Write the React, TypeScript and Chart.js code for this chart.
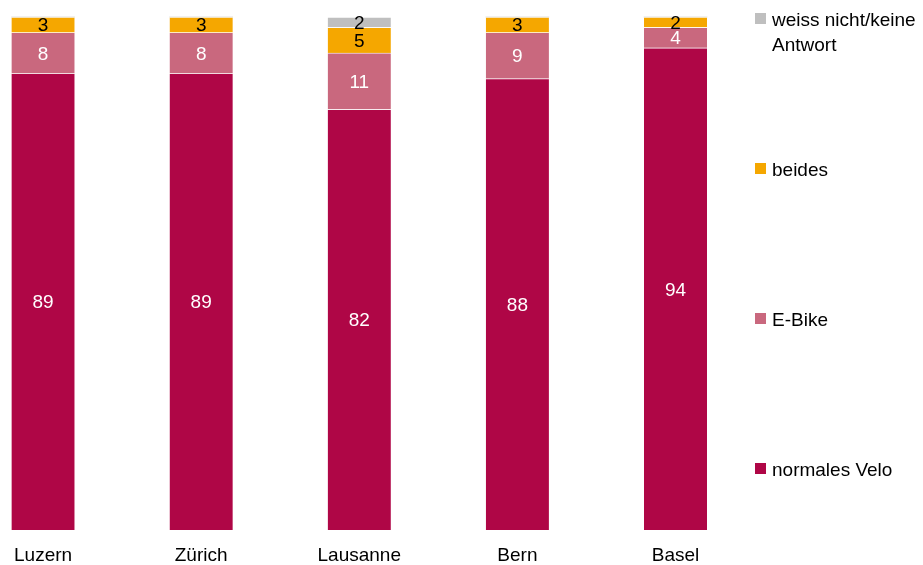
import React, { useEffect, useRef } from "react";
import { Chart, registerables } from "chart.js";

Chart.register(...registerables);

const categories = ["Luzern", "Zürich", "Lausanne", "Bern", "Basel"];
const normalesVelo = [89, 89, 82, 88, 94];
const eBike = [8, 8, 11, 9, 4];
const beides = [3, 3, 5, 3, 2];
const weissNicht = [0, 0, 2, 0, 0];
const seriesLabels = ["normales Velo", "E-Bike", "beides", "weiss nicht/keine Antwort"];
const seriesColors = ["#AF0646", "#C9687E", "#F5A700", "#BFBFBF"];
const labelColors = ["#FFFFFF", "#FFFFFF", "#000000", "#000000"];

const FONT = "'Liberation Sans', Arial, sans-serif";
const FONT_SIZE = 19;

const valueLabelsPlugin = {
  id: "valueLabels",
  afterDatasetsDraw(chart: any) {
    const ctx = chart.ctx;
    ctx.save();
    ctx.font = `${FONT_SIZE}px ${FONT}`;
    ctx.textAlign = "center";
    ctx.textBaseline = "middle";
    chart.data.datasets.forEach((ds: any, di: number) => {
      const meta = chart.getDatasetMeta(di);
      meta.data.forEach((el: any, i: number) => {
        const v = ds.data[i];
        if (!v) return;
        ctx.fillStyle = labelColors[di];
        ctx.fillText(String(v), el.x, (el.y + el.base) / 2 + 1.5);
      });
    });
    ctx.restore();
  },
};

function wrap(ctx: CanvasRenderingContext2D, text: string, maxW: number) {
  const words = text.split(" ");
  const lines: string[] = [];
  let cur = "";
  for (const w of words) {
    const t = cur ? cur + " " + w : w;
    if (ctx.measureText(t).width > maxW && cur) {
      lines.push(cur);
      cur = w;
    } else cur = t;
  }
  if (cur) lines.push(cur);
  return lines;
}

const legendPlugin = {
  id: "sideLegend",
  afterDraw(chart: any) {
    const ctx = chart.ctx;
    ctx.save();
    ctx.font = `${FONT_SIZE}px ${FONT}`;
    ctx.textAlign = "left";
    ctx.textBaseline = "alphabetic";
    const n = chart.data.datasets.length;
    for (let k = 0; k < n; k++) {
      const di = n - 1 - k;
      const ds = chart.data.datasets[di];
      const cy = 18.5 + k * 150;
      ctx.fillStyle = ds.backgroundColor;
      ctx.fillRect(755, cy - 5.5, 11, 11);
      ctx.fillStyle = "#000000";
      const lines = wrap(ctx, ds.label, 148);
      lines.forEach((ln, li) => ctx.fillText(ln, 772, cy + 7.5 + li * 24.5));
    }
    ctx.restore();
  },
};

export default function App() {
  const ref = useRef<HTMLCanvasElement>(null);
  useEffect(() => {
    if (!ref.current) return;
    const seriesData = [normalesVelo, eBike, beides, weissNicht];
    const chart = new Chart(ref.current, {
      type: "bar",
      data: {
        labels: categories,
        datasets: seriesData.map((d, i) => ({
          label: seriesLabels[i],
          data: d,
          backgroundColor: seriesColors[i],
          borderColor: "rgba(255,255,255,0.35)",
          borderWidth: { top: 1, left: 0, right: 0, bottom: 0 },
          borderSkipped: false,
          barThickness: 63,
          clip: false as any,
        })),
      },
      options: {
        animation: false,
        responsive: false,
        layout: { padding: { left: 41.5, right: 247.5, top: 17, bottom: 0 } },
        plugins: { legend: { display: false }, tooltip: { enabled: false } },
        scales: {
          x: {
            stacked: true,
            offset: false,
            grid: { display: false, drawTicks: false },
            border: { display: false },
            ticks: {
              color: "#000000",
              font: { family: FONT, size: FONT_SIZE },
              padding: 14,
              maxRotation: 0,
              autoSkip: false,
            },
            afterFit(scale: any) {
              scale.height = 35;
            },
          },
          y: {
            stacked: true,
            display: false,
            min: 0,
            max: 100,
          },
        },
      },
      plugins: [valueLabelsPlugin, legendPlugin],
    });
    return () => chart.destroy();
  }, []);
  return (
    <div style={{ position: "absolute", left: 0, top: 0, width: 923, height: 565, background: "#fff" }}>
      <canvas ref={ref} width={923} height={565} style={{ display: "block" }} />
    </div>
  );
}
